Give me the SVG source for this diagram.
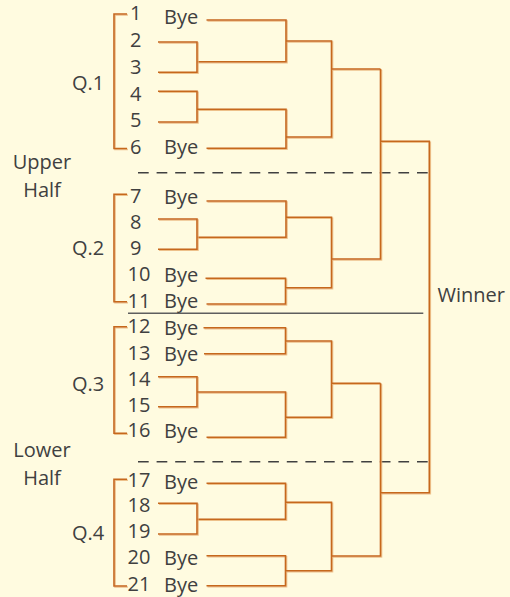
<svg xmlns="http://www.w3.org/2000/svg" width="510" height="597" viewBox="0 0 510 597">
<style>
  text { font-family: "Open Sans", "Liberation Sans", sans-serif; font-size: 20px; fill: #404040; }
  .mid { text-anchor: middle; }
  .wire { fill: none; stroke: #C6671D; stroke-width: 1.6; filter: url(#sh); }
  .dash { fill: none; stroke: #404040; stroke-width: 1.6; stroke-dasharray: 10.7 7.9; }
  .solid { fill: none; stroke: #5E5E5E; stroke-width: 1.6; }
</style>
<defs>
  <filter id="sh" filterUnits="userSpaceOnUse" x="0" y="0" width="510" height="597">
    <feDropShadow dx="0.9" dy="0.9" stdDeviation="0.3" flood-color="#E7AE70" flood-opacity="0.85"/>
  </filter>
</defs>
<rect width="510" height="597" fill="#FFFBE0"/>

<g id="dividers">
  <path class="dash" d="M138,172.7 H429"/>
  <path class="dash" d="M138,461.7 H429"/>
  <path class="solid" d="M128,313.3 H423.3"/>
</g>

<g id="connectors">
  <!-- Q1 -->
  <path class="wire" d="M127,14 H114 V148.5 H127"/>
  <path class="wire" d="M206.5,20 H286 V61.7 H197"/>
  <path class="wire" d="M158,42 H197 V72.3 H158"/>
  <path class="wire" d="M158,91.3 H197 V122 H158"/>
  <path class="wire" d="M197,109.3 H286 V148.3 H206.5"/>
  <path class="wire" d="M286,41 H331.5 V137 H286"/>
  <path class="wire" d="M331.5,69 H380.5"/>
  <!-- Q2 -->
  <path class="wire" d="M127,194.3 H114 V301.7 H127"/>
  <path class="wire" d="M206.5,201 H286 V237.3 H197"/>
  <path class="wire" d="M158,219 H197 V249.3 H158"/>
  <path class="wire" d="M205.5,278.3 H285.5 V304 H206.5"/>
  <path class="wire" d="M286,217.3 H331.5 V287.7 H285.5"/>
  <path class="wire" d="M380.5,69 V259 H331.5"/>
  <!-- Q3 -->
  <path class="wire" d="M127,326.7 H114 V433.3 H127"/>
  <path class="wire" d="M203.5,327.7 H285.5 V353.7 H204"/>
  <path class="wire" d="M158,376.7 H197 V406.7 H158"/>
  <path class="wire" d="M197,392 H285.5 V437.3 H206.5"/>
  <path class="wire" d="M285.5,341 H331.5 V417.3 H285.5"/>
  <path class="wire" d="M331.5,383.3 H380.5"/>
  <!-- Q4 -->
  <path class="wire" d="M127,479.3 H114 V586 H127"/>
  <path class="wire" d="M206.5,483.3 H285.5 V519.3 H197"/>
  <path class="wire" d="M158,503.3 H197 V534 H158"/>
  <path class="wire" d="M206.5,555.7 H285.5 V585.7 H206.5"/>
  <path class="wire" d="M285.5,502.3 H331.5 V570.7 H285.5"/>
  <path class="wire" d="M380.5,383.3 V556 H331.5"/>
  <!-- Final -->
  <path class="wire" d="M380.5,141.3 H429.3 V492.7 H380.5"/>
</g>

<g id="labels">
  <g id="upper-half"><text class="mid" x="42" y="169">Upper</text><text class="mid" x="42" y="197">Half</text></g>
  <g id="lower-half"><text class="mid" x="42" y="457">Lower</text><text class="mid" x="42" y="485">Half</text></g>
  <g id="q1"><text x="72" y="90">Q.1</text></g>
  <g id="q2"><text x="72" y="255">Q.2</text></g>
  <g id="q3"><text x="72" y="391">Q.3</text></g>
  <g id="q4"><text x="72" y="540">Q.4</text></g>
  <g id="winner"><text x="437.5" y="302">Winner</text></g>
</g>

<g id="entrants">
  <g id="e1"><text x="130" y="20">1</text><text x="164" y="24">Bye</text></g>
  <g id="e2"><text x="130" y="47">2</text></g>
  <g id="e3"><text x="130" y="74">3</text></g>
  <g id="e4"><text x="130" y="101">4</text></g>
  <g id="e5"><text x="130" y="127">5</text></g>
  <g id="e6"><text x="130" y="154">6</text><text x="164" y="154">Bye</text></g>
  <g id="e7"><text x="130" y="203">7</text><text x="164" y="204">Bye</text></g>
  <g id="e8"><text x="130" y="229">8</text></g>
  <g id="e9"><text x="130" y="255">9</text></g>
  <g id="e10"><text x="127.5" y="281">10</text><text x="164" y="282">Bye</text></g>
  <g id="e11"><text x="127.5" y="307.5">11</text><text x="164" y="308">Bye</text></g>
  <g id="e12"><text x="127.5" y="333">12</text><text x="164" y="335">Bye</text></g>
  <g id="e13"><text x="127.5" y="360">13</text><text x="164" y="361">Bye</text></g>
  <g id="e14"><text x="127.5" y="386">14</text></g>
  <g id="e15"><text x="127.5" y="412">15</text></g>
  <g id="e16"><text x="127.5" y="437">16</text><text x="164" y="437.5">Bye</text></g>
  <g id="e17"><text x="127.5" y="486.5">17</text><text x="164" y="488.5">Bye</text></g>
  <g id="e18"><text x="127.5" y="512">18</text></g>
  <g id="e19"><text x="127.5" y="538">19</text></g>
  <g id="e20"><text x="127.5" y="564">20</text><text x="164" y="564.5">Bye</text></g>
  <g id="e21"><text x="127.5" y="591">21</text><text x="164" y="591.5">Bye</text></g>
</g>
</svg>
